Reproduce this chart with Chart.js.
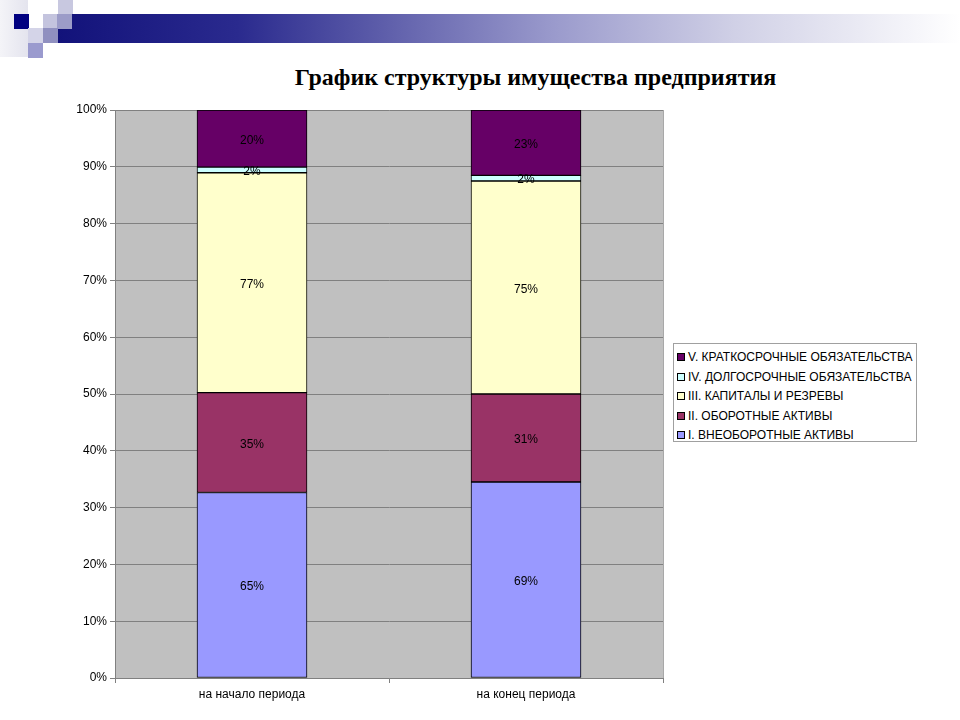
<!DOCTYPE html>
<html>
<head>
<meta charset="utf-8">
<script src="https://cdn.jsdelivr.net/npm/chart.js@4"></script>
<style>
  body { margin: 0; background: #fff; }
  #page { position: relative; width: 960px; height: 720px; overflow: hidden; background: #fff; }
  #bar { position: absolute; left: 57px; top: 14px; width: 903px; height: 29px;
         background: linear-gradient(to right, #12127a 0%, #2a2a8e 20%, #5a5aa8 35%, #9a9acc 55%, #d0d0e6 75%, #ffffff 100%); }
  .sq { position: absolute; width: 15px; height: 15px; }
  #title { position: absolute; left: 0; width: 1071px; top: 64px; text-align: center;
           font: bold 24px "Liberation Serif", "Times New Roman", serif; color: #000; }
  #chartBox { position: absolute; left: 0; top: 0; width: 960px; height: 720px; }
  #legend { position: absolute; left: 673px; top: 343px; width: 244px; height: 99px;
            border: 1px solid #a0a0a0; background: #fff; box-sizing: border-box; padding-top: 4px;
            font: 12px "Liberation Sans", Arial, sans-serif; color: #000; }
  #legend div { height: 19.5px; line-height: 18px; white-space: nowrap; padding-left: 3px; }
  #legend span { display: inline-block; width: 6px; height: 6px; border: 1px solid #000; margin-right: 3px; vertical-align: 0px; }
</style>
</head>
<body>
<div id="page">
  <div id="bar"></div>
  <div class="sq" style="left:0;top:0;width:28px;height:57px;background:linear-gradient(to right,#f4f4f8,#e4e4ee);"></div>
  <div class="sq" style="left:14px;top:14px;background:#000080;"></div>
  <div class="sq" style="left:58px;top:0;height:14px;background:#c8c8e0;"></div>
  <div class="sq" style="left:43px;top:14px;background:#c4c4de;"></div>
  <div class="sq" style="left:57px;top:14px;background:#9c9cc8;"></div>
  <div class="sq" style="left:28px;top:28px;background:#d4d4e8;"></div>
  <div class="sq" style="left:43px;top:28px;background:#9090c0;"></div>
  <div class="sq" style="left:28px;top:43px;background:#9a9ace;"></div>
  <div id="title">График структуры имущества предприятия</div>
  <div id="chartBox"><canvas id="myChart" width="960" height="720"></canvas></div>
  <div id="legend"></div>
</div>
<script>
// данные графика
const categories = ["на начало периода", "на конец периода"];
const seriesNames = [
  "I. ВНЕОБОРОТНЫЕ АКТИВЫ",
  "II. ОБОРОТНЫЕ АКТИВЫ",
  "III. КАПИТАЛЫ И РЕЗРЕВЫ",
  "IV. ДОЛГОСРОЧНЫЕ ОБЯЗАТЕЛЬСТВА",
  "V. КРАТКОСРОЧНЫЕ ОБЯЗАТЕЛЬСТВА"
];
const vneoborotnye = [65, 69];
const oborotnye = [35, 31];
const kapitaly = [77, 75];
const dolgosrochnye = [2, 2];
const kratkosrochnye = [20, 23];
const yTicks = [0, 10, 20, 30, 40, 50, 60, 70, 80, 90, 100];

const seriesValues = [vneoborotnye, oborotnye, kapitaly, dolgosrochnye, kratkosrochnye];
const seriesColors = ["#9999ff", "#993366", "#ffffcc", "#ccffff", "#660066"];
const FONT = '"Liberation Sans", Arial, sans-serif';

// нормировка на 100% как в Excel
let totals = categories.map(function (c, i) {
  let s = 0;
  seriesValues.forEach(function (arr) { s += arr[i]; });
  return s;
});

let datasets = seriesValues.map(function (arr, k) {
  return {
    label: seriesNames[k],
    data: arr.map(function (v, i) { return v / totals[i] * 100; }),
    raw: arr,
    backgroundColor: seriesColors[k],
    borderColor: "#000",
    borderWidth: 1,
    borderSkipped: false,
    barThickness: 110
  };
});

// легенда (в обратном порядке)
let legendEl = document.getElementById("legend");
for (let k = seriesNames.length - 1; k >= 0; k--) {
  let row = document.createElement("div");
  row.innerHTML = '<span style="background:' + seriesColors[k] + '"></span>' + seriesNames[k];
  legendEl.appendChild(row);
}

// серый фон области построения
const plotBg = {
  id: "plotBg",
  beforeDraw: function (chart) {
    let a = chart.chartArea, ctx = chart.ctx;
    ctx.save();
    ctx.fillStyle = "#c0c0c0";
    ctx.fillRect(a.left, a.top, a.right - a.left, a.bottom - a.top);
    ctx.strokeStyle = "#a8a8a8";
    ctx.lineWidth = 1;
    ctx.beginPath();
    ctx.moveTo(a.right + 0.5, a.top);
    ctx.lineTo(a.right + 0.5, a.bottom);
    ctx.stroke();
    ctx.restore();
  }
};

// подписи значений
const barLabels = {
  id: "barLabels",
  afterDatasetsDraw: function (chart) {
    let ctx = chart.ctx;
    ctx.save();
    ctx.font = "12px " + FONT;
    ctx.fillStyle = "#000";
    ctx.textAlign = "center";
    ctx.textBaseline = "middle";
    chart.data.datasets.forEach(function (ds, k) {
      chart.getDatasetMeta(k).data.forEach(function (bar, i) {
        let p = bar.getProps(["x", "y", "base"], true);
        ctx.fillText(ds.raw[i] + "%", p.x, (p.y + p.base) / 2 + 2);
      });
    });
    ctx.restore();
  }
};

var ctx = document.getElementById("myChart").getContext("2d");
var myChart = new Chart(ctx, {
  type: "bar",
  data: { labels: categories, datasets: datasets },
  plugins: [plotBg, barLabels],
  options: {
    responsive: false,
    animation: false,
    layout: { padding: { left: 0, right: 297, top: 110, bottom: 0 } },
    plugins: { legend: { display: false }, tooltip: { enabled: false } },
    scales: {
      x: {
        stacked: true,
        afterFit: function (s) { s.height = 42; },
        grid: { offset: true, drawOnChartArea: false, color: "#808080", tickLength: 5 },
        border: { color: "#808080" },
        ticks: { color: "#000", padding: 4, font: { size: 12, family: FONT } }
      },
      y: {
        stacked: true,
        min: 0,
        max: 100,
        afterFit: function (s) { s.width = 115; },
        afterBuildTicks: function (s) { s.ticks = yTicks.map(function (v) { return { value: v }; }); },
        grid: { color: "#808080", tickLength: 5 },
        border: { color: "#808080" },
        ticks: {
          color: "#000",
          padding: 3,
          font: { size: 12, family: FONT },
          callback: function (v) { return v + "%"; }
        }
      }
    }
  }
});
</script>
</body>
</html>
